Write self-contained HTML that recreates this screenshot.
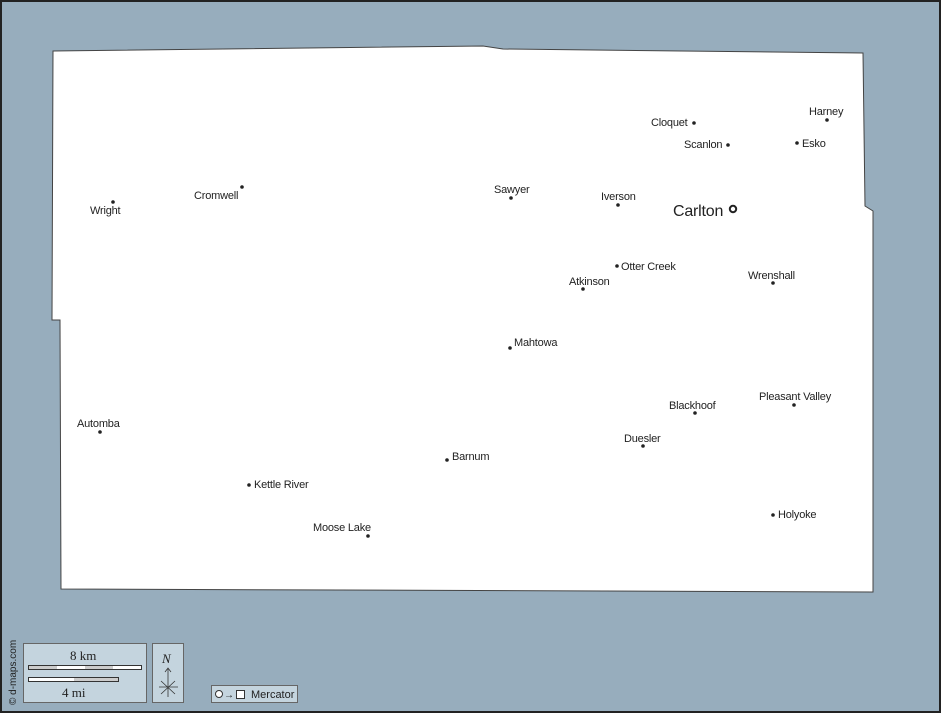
<!DOCTYPE html>
<html><head><style>body{margin:0;background:#97adbd}svg{display:block}text{font-family:"Liberation Sans",sans-serif;font-size:11px;fill:#222}</style></head><body>
<svg width="941" height="713" xmlns="http://www.w3.org/2000/svg">
<rect x="1" y="1" width="939" height="711" fill="#97adbd" stroke="#222" stroke-width="2"/>
<polygon points="53,51 483,46 503,49 863,53 865,206 873,211 873,592 61,589 60,320 52,320" fill="#fff" stroke="#444" stroke-width="1"/>
<g fill="#222">
<circle cx="694" cy="123" r="1.8"/><circle cx="827" cy="120" r="1.8"/><circle cx="728" cy="145" r="1.8"/><circle cx="797" cy="143" r="1.8"/>
<circle cx="113" cy="202" r="1.8"/><circle cx="242" cy="187" r="1.8"/><circle cx="511" cy="198" r="1.8"/><circle cx="618" cy="205" r="1.8"/>
<circle cx="617" cy="266" r="1.8"/><circle cx="583" cy="289" r="1.8"/><circle cx="773" cy="283" r="1.8"/><circle cx="510" cy="348" r="1.8"/>
<circle cx="695" cy="413" r="1.8"/><circle cx="794" cy="405" r="1.8"/><circle cx="100" cy="432" r="1.8"/><circle cx="643" cy="446" r="1.8"/>
<circle cx="447" cy="460" r="1.8"/><circle cx="249" cy="485" r="1.8"/><circle cx="773" cy="515" r="1.8"/><circle cx="368" cy="536" r="1.8"/>
</g>
<circle cx="733" cy="209" r="3.2" fill="none" stroke="#222" stroke-width="2"/>
<g style="letter-spacing:-0.2px">
<text x="651" y="126">Cloquet</text><text x="809" y="115">Harney</text><text x="684" y="148">Scanlon</text><text x="802" y="147">Esko</text>
<text x="90" y="214">Wright</text><text x="194" y="199">Cromwell</text><text x="494" y="193">Sawyer</text><text x="601" y="200">Iverson</text>
<text x="673" y="216" style="font-size:16px">Carlton</text>
<text x="621" y="270">Otter Creek</text><text x="569" y="285">Atkinson</text><text x="748" y="279">Wrenshall</text><text x="514" y="346">Mahtowa</text>
<text x="669" y="409">Blackhoof</text><text x="759" y="400">Pleasant Valley</text><text x="77" y="427">Automba</text><text x="624" y="442">Duesler</text>
<text x="452" y="460">Barnum</text><text x="254" y="488">Kettle River</text><text x="778" y="518">Holyoke</text><text x="313" y="531">Moose Lake</text>
</g>
<text transform="translate(16,705) rotate(-90)" style="font-size:10px">© d-maps.com</text>
<rect x="23.5" y="643.5" width="123" height="59" fill="#c4d4de" stroke="#666"/>
<text x="70" y="660" style="font-family:'Liberation Serif',serif;font-size:13px">8 km</text>
<rect x="28.5" y="665.5" width="113" height="4" fill="#fff" stroke="#333"/>
<rect x="29" y="666" width="28" height="3" fill="#ccc"/><rect x="85" y="666" width="28" height="3" fill="#ccc"/>
<rect x="28.5" y="677.5" width="90" height="4" fill="#fff" stroke="#333"/><rect x="74" y="678" width="44" height="3" fill="#ccc"/>
<text x="62" y="697" style="font-family:'Liberation Serif',serif;font-size:13px">4 mi</text>
<rect x="152.5" y="643.5" width="31" height="59" fill="#c4d4de" stroke="#666"/>
<text x="162" y="663" style="font-family:'Liberation Serif',serif;font-size:13px;font-style:italic">N</text>
<path d="M168 669V697M159 687H178M161 681L175 694M175 681L161 694M165 672L168 668L171 672" stroke="#333" fill="none" stroke-width="0.8"/>
<rect x="211.5" y="685.5" width="86" height="17" fill="#c4d4de" stroke="#666"/>
<circle cx="219" cy="694" r="3.5" fill="#fff" stroke="#333"/>
<text x="224" y="698" style="font-size:10px">→</text>
<rect x="236.5" y="690.5" width="8" height="8" fill="#fff" stroke="#333"/>
<text x="251" y="698">Mercator</text>
</svg>
</body></html>
